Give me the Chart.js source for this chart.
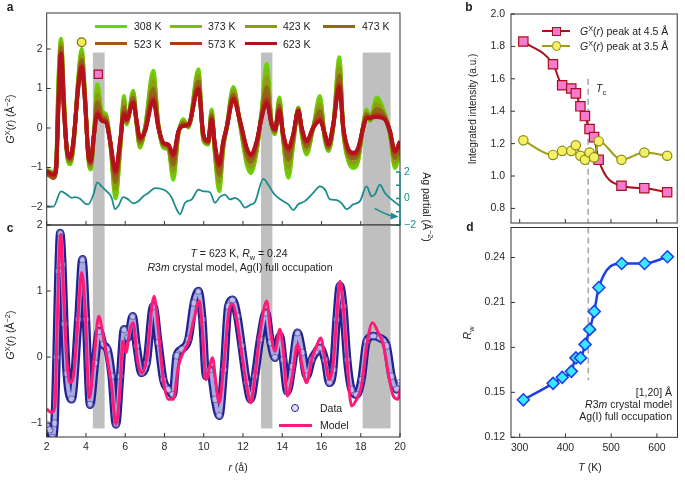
<!DOCTYPE html>
<html><head><meta charset="utf-8">
<script src="https://cdn.jsdelivr.net/npm/chart.js@4.4.1/dist/chart.umd.min.js"></script>
<style>
html,body{margin:0;padding:0;background:#fff;}
#wrap{position:relative;width:685px;height:480px;overflow:hidden;font-family:"Liberation Sans",Arial,Helvetica,sans-serif;color:#222;}
canvas{position:absolute;}
.t{position:absolute;font-size:10.5px;line-height:12px;white-space:nowrap;}
.cc{transform:translate(-50%,-50%);}
.ru{transform:translate(-50%,-50%) rotate(-90deg);}
.rd{transform:translate(-50%,-50%) rotate(90deg);}
.lm{transform:translateY(-50%);}
.rm{transform:translate(-100%,-50%);text-align:right;}
.pl{position:absolute;font-weight:bold;font-size:12px;line-height:12px;transform:translate(-50%,-50%);}
sup,sub{font-size:70%;line-height:0;}
.sw{position:absolute;box-sizing:border-box;}
</style></head>
<body><div id="wrap">
<canvas id="ca" width="440" height="240" style="left:0;top:0"></canvas>
<canvas id="cc" width="440" height="260" style="left:0;top:220px"></canvas>
<canvas id="cb" width="245" height="240" style="left:440px;top:0"></canvas>
<canvas id="cd" width="245" height="260" style="left:440px;top:220px"></canvas>

<div class="pl" style="left:10px;top:7px">a</div>
<div class="pl" style="left:469px;top:7px">b</div>
<div class="pl" style="left:10px;top:228px">c</div>
<div class="pl" style="left:470px;top:227px">d</div>

<div class="t ru" style="left:10px;top:119px"><i>G</i><sup>X</sup>(<i>r</i>) (Å<sup>−2</sup>)</div>
<div class="t ru" style="left:10px;top:335px"><i>G</i><sup>X</sup>(<i>r</i>) (Å<sup>−2</sup>)</div>
<div class="t rd" style="left:427px;top:207px">Ag partial (Å<sup>−2</sup>)</div>
<div class="t cc" style="left:238px;top:467px"><i>r</i> (å)</div>
<div class="t ru" style="left:473px;top:109px;font-size:10px">Integrated intensity (a.u.)</div>
<div class="t ru" style="left:467px;top:333px"><i>R</i><sub>w</sub></div>
<div class="t cc" style="left:590px;top:467px"><i>T</i> (K)</div>
<div class="t lm" style="left:596px;top:88px"><i>T</i><sub>c</sub></div>
<div class="t cc" style="left:239px;top:253px"><i>T</i> = 623 K, <i>R</i><sub>w</sub> = 0.24</div>
<div class="t cc" style="left:240px;top:267px"><i>R</i>3<i>m</i> crystal model, Ag(I) full occupation</div>
<div class="t rm" style="left:672px;top:392px">[1,20] Å</div>
<div class="t rm" style="left:672px;top:404px"><i>R</i>3<i>m</i> crystal model</div>
<div class="t rm" style="left:672px;top:416px">Ag(I) full occupation</div>

<!-- panel c legend -->
<div class="sw" style="left:291px;top:404px;width:8px;height:8px;border:1px solid #1f1f8f;border-radius:50%;background:rgba(215,215,245,0.7)"></div>
<div class="t lm" style="left:320px;top:408px">Data</div>
<div class="sw" style="left:279px;top:423.5px;width:33px;height:3px;background:#ff1a78"></div>
<div class="t lm" style="left:320px;top:425px">Model</div>

<!-- panel b legend -->
<div class="sw" style="left:542px;top:30px;width:28px;height:2px;background:#a8101c"></div>
<div class="sw" style="left:551.5px;top:26.5px;width:9px;height:9px;border:1px solid #a8101c;background:#f57ad0"></div>
<div class="t lm" style="left:580px;top:31px"><i>G</i><sup>X</sup>(<i>r</i>) peak at 4.5 Å</div>
<div class="sw" style="left:542px;top:44.7px;width:28px;height:2px;background:#a0a018"></div>
<div class="sw" style="left:551.5px;top:41.2px;width:9.5px;height:9.5px;border:1px solid #8d8d12;border-radius:50%;background:#f5f065"></div>
<div class="t lm" style="left:580px;top:45.7px"><i>G</i><sup>X</sup>(<i>r</i>) peak at 3.5 Å</div>
</div>

<script>
// ---------------- data ----------------
const temps = ['308 K','373 K','423 K','473 K','523 K','573 K','623 K'];
const tempColors = ['#66d800','#7cbd0e','#8e9c10','#8c6c12','#9c581e','#b0361a','#b3121b'];

const rA = [2.00,2.17,2.34,2.48,2.59,2.73,2.88,3.02,3.19,3.36,3.61,3.78,3.95,4.12,4.24,4.41,4.58,4.80,5.02,5.23,5.51,5.74,5.94,6.07,6.41,6.58,6.75,7.01,7.43,7.69,7.94,8.20,8.45,8.71,8.96,9.22,9.73,9.98,10.23,10.40,10.57,10.79,11.00,11.17,11.51,11.85,12.19,12.39,12.70,12.95,13.21,13.46,13.63,13.85,14.05,14.31,14.56,14.82,14.99,15.24,15.58,15.92,16.18,16.35,16.60,16.91,17.11,17.37,17.62,17.87,18.13,18.30,18.47,18.81,19.23,19.49,19.74,20.00];

const G308 = [-1.05,-1.09,-1.12,-0.95,1.11, 2.26,0.77,-0.59,-0.92,-0.50, 1.28,2.00,0.86,-0.75,-1.05, -0.16,1.11,0.43,0.35,-0.33, -1.78,-0.59,0.81,0.09,0.94, 0.09,-0.50,0.01,1.45,0.09, -0.50,-0.54,-1.31,-0.16,0.22, 0.01,1.49,-0.33,-0.42,0.47, -0.67,-1.60,-0.50,0.01,1.04, 0.09,-0.92,-1.14,-0.59,0.43, 1.62,0.09,-0.16,0.77,-0.33, -1.26,-0.42,0.52,-0.16,-0.67, 0.01,0.81,-0.33,-0.59,0.01, 1.79,-0.08,-0.84,-1.01,-0.84, 0.09,0.47,0.18,0.77,0.35, -0.16,-1.01,-0.59];
const G373 = [-1.07,-1.11,-1.15,-0.97,1.01, 2.20,0.72,-0.58,-0.89,-0.47, 1.24,1.93,0.83,-0.74,-1.02, -0.16,1.00,0.39,0.32,-0.33, -1.68,-0.55,0.74,0.11,0.90, 0.10,-0.46,0.00,1.34,0.08, -0.48,-0.52,-1.21,-0.15,0.19, 0.02,1.41,-0.30,-0.41,0.43, -0.63,-1.50,-0.47,0.01,1.00, 0.10,-0.86,-1.07,-0.55,0.40, 1.47,0.09,-0.14,0.72,-0.30, -1.15,-0.38,0.51,-0.13,-0.62, 0.01,0.72,-0.30,-0.56,0.02, 1.68,-0.07,-0.80,-0.95,-0.79, 0.08,0.44,0.19,0.70,0.33, -0.15,-0.95,-0.55];
const G423 = [-1.10,-1.15,-1.20,-1.00,0.87, 2.12,0.65,-0.56,-0.86,-0.44, 1.19,1.84,0.80,-0.72,-0.98, -0.16,0.84,0.34,0.28,-0.33, -1.54,-0.50,0.65,0.14,0.84, 0.12,-0.41,-0.02,1.18,0.06, -0.45,-0.50,-1.09,-0.13,0.16, 0.04,1.31,-0.27,-0.39,0.38, -0.58,-1.36,-0.44,0.01,0.93, 0.12,-0.77,-0.98,-0.50,0.37, 1.28,0.09,-0.11,0.65,-0.27, -0.99,-0.33,0.49,-0.10,-0.55, 0.01,0.59,-0.27,-0.53,0.04, 1.52,-0.05,-0.74,-0.88,-0.72, 0.06,0.39,0.21,0.60,0.30, -0.13,-0.86,-0.50];
const G473 = [-1.14,-1.19,-1.24,-1.05,0.70, 2.03,0.57,-0.54,-0.82,-0.40, 1.13,1.72,0.76,-0.70,-0.92, -0.16,0.65,0.28,0.22,-0.33, -1.37,-0.43,0.53,0.17,0.76, 0.14,-0.35,-0.04,0.99,0.04, -0.42,-0.47,-0.93,-0.11,0.12, 0.06,1.18,-0.23,-0.37,0.32, -0.52,-1.19,-0.40,0.01,0.85, 0.14,-0.67,-0.86,-0.43,0.33, 1.03,0.09,-0.08,0.57,-0.23, -0.80,-0.26,0.47,-0.06,-0.47, 0.01,0.43,-0.23,-0.49,0.06, 1.33,-0.03,-0.66,-0.78,-0.64, 0.04,0.34,0.23,0.48,0.27, -0.11,-0.76,-0.43];
const G523 = [-1.16,-1.22,-1.27,-1.08,0.57, 1.95,0.50,-0.52,-0.78,-0.36, 1.08,1.63,0.72,-0.69,-0.88, -0.16,0.50,0.23,0.18,-0.33, -1.23,-0.38,0.44,0.19,0.70, 0.16,-0.30,-0.06,0.84,0.03, -0.40,-0.44,-0.80,-0.10,0.08, 0.07,1.08,-0.19,-0.35,0.27, -0.47,-1.06,-0.36,0.01,0.79, 0.16,-0.58,-0.76,-0.38,0.29, 0.84,0.09,-0.06,0.50,-0.19, -0.65,-0.21,0.45,-0.02,-0.40, 0.01,0.31,-0.19,-0.45,0.07, 1.18,-0.01,-0.60,-0.71,-0.57, 0.03,0.29,0.24,0.38,0.25, -0.10,-0.67,-0.38];
const G573 = [-1.12,-1.17,-1.22,-1.03,0.48, 1.90,0.46,-0.51,-0.76,-0.34, 1.05,1.58,0.70,-0.68,-0.86, -0.16,0.41,0.20,0.16,-0.33, -1.15,-0.35,0.39,0.21,0.66, 0.17,-0.27,-0.07,0.75,0.02, -0.38,-0.43,-0.72,-0.09,0.06, 0.08,1.02,-0.17,-0.34,0.24, -0.44,-0.97,-0.34,0.01,0.75, 0.17,-0.53,-0.71,-0.35,0.27, 0.72,0.09,-0.04,0.46,-0.17, -0.56,-0.18,0.44,0.00,-0.36, 0.01,0.23,-0.17,-0.43,0.08, 1.09,0.00,-0.56,-0.66,-0.53, 0.02,0.27,0.25,0.32,0.23, -0.09,-0.62,-0.35];
const G623 = [-1.09,-1.14,-1.18,-1.01,0.43, 1.87,0.43,-0.50,-0.75,-0.33, 1.03,1.54,0.69,-0.67,-0.84, -0.16,0.35,0.18,0.14,-0.33, -1.09,-0.33,0.35,0.22,0.64, 0.18,-0.25,-0.08,0.69,0.01, -0.37,-0.42,-0.67,-0.08,0.05, 0.09,0.98,-0.16,-0.33,0.22, -0.42,-0.92,-0.33,0.01,0.73, 0.18,-0.50,-0.67,-0.33,0.26, 0.64,0.09,-0.03,0.43,-0.16, -0.50,-0.16,0.43,0.01,-0.33, 0.01,0.18,-0.16,-0.42,0.09, 1.03,0.01,-0.54,-0.63,-0.50, 0.01,0.25,0.26,0.28,0.22, -0.08,-0.59,-0.33];
const Gseries = [G308,G373,G423,G473,G523,G573,G623];

const rAg = [2.00,2.34,2.73,3.02,3.27,3.44,3.70,3.95,4.12,4.38,4.58,4.80,5.06,5.31,5.48,5.65,5.90,6.16,6.41,6.67,6.92,7.18,7.52,8.11,8.37,8.62,8.79,9.05,9.39,9.73,9.98,10.32,10.57,10.83,11.08,11.34,11.59,11.85,12.10,12.36,12.61,13.04,13.29,13.55,13.80,14.05,14.31,14.56,14.82,15.16,15.58,15.92,16.18,16.43,16.77,17.03,17.28,17.62,17.96,18.30,18.55,18.72,18.97,19.23,19.57,20.00];
const gAg = [-0.57,-0.62,0.54,0.30,0.05,0.10,-0.02,-0.37,-0.44,0.30,1.21,0.91,0.54,0.05,-0.81,-0.57,0.10,-0.07,-0.37,-0.20,0.17,0.42,0.79,0.54,0.05,-0.81,-1.19,-0.32,-0.07,0.67,0.54,0.47,-0.32,0.12,0.30,-0.07,0.05,-0.20,-0.69,-0.49,-0.27,1.48,1.04,0.42,0.05,-0.20,-0.44,-0.86,-0.44,-0.20,0.42,0.91,0.67,-0.07,-0.12,-0.37,-0.81,-0.44,-0.20,0.91,0.17,0.30,1.04,0.42,-0.07,-0.57];

const markerCircleA = [{x:3.78, y:2.17}];
const markerSquareA = [{x:4.63, y:1.36}];

const bandFrom = [4.35, 12.92, 18.10];
const bandTo   = [4.95, 13.50, 19.52];

const rData = [2.00,2.15,2.29,2.40,2.50,2.60,2.69,2.80,2.90,3.02,3.27,3.61,3.82,4.00,4.21,4.46,4.67,4.89,5.09,5.31,5.53,5.74,5.94,6.13,6.38,6.58,6.84,7.09,7.43,7.69,7.94,8.20,8.42,8.62,8.88,9.22,9.50,9.73,9.93,10.12,10.32,10.57,10.79,11.03,11.25,11.47,11.71,11.93,12.19,12.39,12.61,12.87,13.17,13.41,13.63,13.88,14.05,14.26,14.51,14.78,15.02,15.24,15.50,15.75,15.92,16.18,16.40,16.60,16.77,16.94,17.11,17.31,17.53,17.79,18.04,18.30,18.64,18.98,19.32,19.57,19.83,20.00];
const gData = [-1.02,-1.10,-1.22,-1.00,0.00,1.30,1.88,1.40,0.50,-0.25,-0.64,0.57,1.48,0.57,-0.72,-0.09,0.39,0.19,0.12,-0.29,-1.02,-0.29,0.42,0.29,0.62,0.17,-0.24,-0.09,0.77,0.22,-0.34,-0.49,-0.57,0.02,0.12,0.27,0.82,1.00,0.57,-0.29,-0.19,-0.64,-0.89,-0.19,0.77,0.87,0.62,0.17,-0.39,-0.64,-0.29,0.27,0.67,0.22,-0.01,0.32,-0.04,-0.52,-0.14,0.37,0.07,-0.29,-0.04,0.09,0.14,-0.04,-0.39,-0.19,0.57,1.08,0.77,-0.04,-0.49,-0.57,-0.34,0.24,0.32,0.29,0.17,-0.29,-0.49,-0.39];
const rModel = [2.00,2.25,2.42,2.54,2.71,2.88,3.02,3.19,3.36,3.56,3.78,3.95,4.17,4.41,4.65,4.85,5.09,5.31,5.53,5.74,5.87,6.04,6.24,6.41,6.62,6.84,7.09,7.47,7.69,7.94,8.20,8.45,8.71,8.96,9.22,9.50,9.78,9.93,10.12,10.45,10.62,10.79,11.03,11.30,11.47,11.71,11.93,12.19,12.39,12.61,12.87,13.21,13.41,13.63,13.88,14.05,14.26,14.51,14.78,15.02,15.24,15.50,15.75,15.96,16.18,16.40,16.60,16.77,16.94,17.11,17.31,17.53,17.79,18.04,18.30,18.60,18.89,19.15,19.40,19.66,19.91,20.00];
const gModel = [-0.79,-0.84,-0.74,0.57,1.86,0.82,-0.04,-0.39,-0.29,0.42,1.28,0.77,-0.62,-0.04,0.62,0.37,-0.04,-0.44,-1.02,-0.44,0.24,0.07,0.42,0.52,-0.04,-0.24,-0.04,0.92,0.42,-0.34,-0.64,-0.64,-0.14,0.07,0.22,0.57,0.85,0.42,-0.34,-0.01,-0.39,-0.69,-0.09,0.72,0.80,0.52,0.07,-0.44,-0.69,-0.29,0.37,0.85,0.37,0.09,0.42,0.12,-0.59,-0.29,0.19,-0.14,-0.39,-0.04,0.17,0.29,-0.04,-0.34,-0.09,0.57,1.15,0.77,-0.09,-0.74,-0.64,-0.44,0.17,0.52,0.37,0.19,-0.24,-0.59,-0.64,-0.49];

const tempsK = [308,373,393,413,423,433,443,453,463,473,523,573,623];
const peak45 = [1.83,1.69,1.56,1.54,1.51,1.43,1.37,1.29,1.24,1.10,0.94,0.925,0.90];
const peak35 = [1.22,1.13,1.155,1.155,1.19,1.125,1.10,1.145,1.115,1.215,1.10,1.145,1.125];
const Rw = [0.145,0.156,0.160,0.164,0.173,0.173,0.182,0.192,0.204,0.220,0.236,0.236,0.2405];
const Tc = 450;

const xTicksR = [2,4,6,8,10,12,14,16,18,20];
const yTicksA = [-2,-1,0,1,2];
const yTicksAg = [-2,-1,0,1,2];
const yTicksC = [-1,0,1,2];
const xTicksT = [300,400,500,600];
const yTicksB = [0.8,1.0,1.2,1.4,1.6,1.8,2.0];
const yTicksD = [0.12,0.15,0.18,0.21,0.24];

// ---------------- helpers ----------------
Chart.defaults.font.family = '"Liberation Sans", Arial, Helvetica, sans-serif';
Chart.defaults.font.size = 10.5;
Chart.defaults.color = '#2a2a2a';

const minus = v => (v < 0 ? '\u2212' + Math.abs(v) : String(v));
const xy = (xs, ys) => xs.map((x, i) => ({x, y: ys[i]}));

function scale(min, max, tickVals, extra) {
  extra = extra || {};
  const t = Object.assign({padding: 4, color: '#2a2a2a', autoSkip: false, maxRotation: 0, minRotation: 0}, extra.ticks || {});
  const o = {type: 'linear', min, max, position: extra.position || 'left',
    grid: {display: false, drawTicks: false}, border: {display: false}, ticks: t};
  o.afterBuildTicks = sc => { sc.ticks = tickVals.map(v => ({value: v})); };
  o.afterFit = sc => {
    if (extra.w != null) sc.width = extra.w;
    if (extra.h != null) sc.height = extra.h;
    sc.paddingTop = 0; sc.paddingBottom = 0; sc.paddingLeft = 0; sc.paddingRight = 0;
  };
  return o;
}

// draws a wider dark stroke under a line dataset (for the "open circle" data band)
const underlay = {
  id: 'underlay',
  beforeDatasetDraw(chart, args) {
    const ds = chart.data.datasets[args.index];
    if (!ds.underColor) return;
    const el = args.meta.dataset;
    const o = el.options;
    const bw = o.borderWidth, bc = o.borderColor;
    const ctx = chart.ctx, ca = chart.chartArea;
    ctx.save();
    ctx.beginPath(); ctx.rect(ca.left, ca.top, ca.right - ca.left, ca.bottom - ca.top); ctx.clip();
    try {
      o.borderWidth = ds.underWidth; o.borderColor = ds.underColor;
      el.draw(ctx, ca);
    } catch (e) {}
    try { o.borderWidth = bw; o.borderColor = bc; } catch (e) {}
    ctx.restore();
  }
};

function makeDeco(cfg) {
  return {
    id: 'deco',
    beforeDatasetsDraw(chart) {
      const {ctx, chartArea: ca, scales: s} = chart;
      ctx.save();
      if (cfg.bands) {
        ctx.fillStyle = '#bfbfbf';
        for (let i = 0; i < cfg.bands.from.length; i++) {
          const x0 = s.x.getPixelForValue(cfg.bands.from[i]);
          const x1 = s.x.getPixelForValue(cfg.bands.to[i]);
          const y0 = cfg.bands.top == null ? ca.top : s.y.getPixelForValue(cfg.bands.top);
          const y1 = cfg.bands.bottom == null ? ca.bottom : s.y.getPixelForValue(cfg.bands.bottom);
          ctx.fillRect(x0, y0, x1 - x0, y1 - y0);
        }
      }
      if (cfg.vline) {
        const x = s.x.getPixelForValue(cfg.vline.x);
        const y0 = cfg.vline.top == null ? ca.top : s.y.getPixelForValue(cfg.vline.top);
        const y1 = cfg.vline.bottom == null ? ca.bottom : s.y.getPixelForValue(cfg.vline.bottom);
        ctx.strokeStyle = '#a9a9a9'; ctx.lineWidth = 1.6; ctx.setLineDash([6, 4]);
        ctx.beginPath(); ctx.moveTo(x, y0); ctx.lineTo(x, y1); ctx.stroke();
      }
      ctx.restore();
    },
    afterDatasetsDraw(chart) {
      const {ctx, chartArea: ca, scales: s} = chart;
      ctx.save();
      ctx.lineWidth = 1;
      ctx.strokeStyle = '#333';
      ctx.strokeRect(ca.left, ca.top, ca.right - ca.left, ca.bottom - ca.top);
      for (const t of cfg.ticks) {
        const sc = s[t.id];
        const len = t.len || 4;
        ctx.strokeStyle = t.color || '#333';
        ctx.lineWidth = t.lw || 1;
        ctx.beginPath();
        if (t.axisFrom != null) {
          ctx.moveTo(ca.right, sc.getPixelForValue(t.axisFrom));
          ctx.lineTo(ca.right, sc.getPixelForValue(t.axisTo));
        }
        for (const tk of sc.ticks) {
          const p = sc.getPixelForValue(tk.value);
          if (sc.position === 'left') { ctx.moveTo(ca.left, p); ctx.lineTo(ca.left + len, p); }
          else if (sc.position === 'right') { ctx.moveTo(ca.right, p); ctx.lineTo(ca.right - len, p); }
          else if (sc.position === 'bottom') { ctx.moveTo(p, ca.bottom); ctx.lineTo(p, ca.bottom - len); }
        }
        ctx.stroke();
      }
      if (cfg.arrow) {
        const a = cfg.arrow, sy = s[a.axis];
        const x0 = s.x.getPixelForValue(a.from[0]), y0 = sy.getPixelForValue(a.from[1]);
        const x1 = s.x.getPixelForValue(a.to[0]), y1 = sy.getPixelForValue(a.to[1]);
        const cx = x0 + (x1 - x0) * 0.55, cy = y1 - 1;
        ctx.strokeStyle = a.color; ctx.fillStyle = a.color; ctx.lineWidth = 1.5;
        ctx.beginPath(); ctx.moveTo(x0, y0); ctx.quadraticCurveTo(cx, cy, x1 - 5, y1 - 0.5); ctx.stroke();
        const ang = Math.atan2(y1 - cy, x1 - cx);
        ctx.beginPath();
        ctx.moveTo(x1, y1);
        ctx.lineTo(x1 - 8 * Math.cos(ang) + 3.5 * Math.sin(ang), y1 - 8 * Math.sin(ang) - 3.5 * Math.cos(ang));
        ctx.lineTo(x1 - 8 * Math.cos(ang) - 3.5 * Math.sin(ang), y1 - 8 * Math.sin(ang) + 3.5 * Math.cos(ang));
        ctx.closePath(); ctx.fill();
      }
      ctx.restore();
    }
  };
}

const baseOpts = (padding, scales) => ({
  responsive: false, animation: false, events: [],
  layout: {padding},
  plugins: {legend: {display: false}, tooltip: {enabled: false}},
  scales
});

// ---------------- panel a ----------------
const teal = '#1b8c8c';
const dsA = temps.map((lab, i) => ({
  label: lab, data: xy(rA, Gseries[i]), yAxisID: 'y',
  borderColor: tempColors[i], borderWidth: 4, pointRadius: 0,
  cubicInterpolationMode: 'monotone', order: 7 - i + 1
}));
dsA.push({label: 'Ag partial', data: xy(rAg, gAg), yAxisID: 'y2', borderColor: teal, borderWidth: 1.8,
  pointRadius: 0, cubicInterpolationMode: 'monotone', order: 0});
dsA.push({label: 'peak 3.5', data: markerCircleA, yAxisID: 'y', showLine: false, pointStyle: 'circle',
  pointRadius: 4.3, pointBackgroundColor: '#f3ec5a', pointBorderColor: '#7d6d10', pointBorderWidth: 1.2, order: -1});
dsA.push({label: 'peak 4.5', data: markerSquareA, yAxisID: 'y', showLine: false, pointStyle: 'rect',
  pointRadius: 5.8, pointBackgroundColor: '#f47ccc', pointBorderColor: '#a01030', pointBorderWidth: 1.2, order: -1});

new Chart(document.getElementById('ca'), {
  type: 'line',
  data: {datasets: dsA},
  options: baseOpts({top: 13, left: 0, right: 0, bottom: 0}, {
    x: scale(2, 20, xTicksR, {position: 'bottom', h: 15, ticks: {display: false}}),
    y: scale(-2.456, 2.911, yTicksA, {position: 'left', w: 46.7, ticks: {callback: minus, padding: 4}}),
    y2: scale(-2, 14, yTicksAg, {position: 'right', w: 40, ticks: {color: teal, padding: 4,
      callback: v => (Math.abs(v) % 2 === 0 ? minus(v) : '')}})
  }),
  plugins: [makeDeco({
    bands: {from: bandFrom, to: bandTo, top: 1.91},
    ticks: [{id: 'x'}, {id: 'y'}, {id: 'y2', color: teal, lw: 1.3, axisFrom: -2, axisTo: 2}],
    arrow: {axis: 'y2', from: [18.71, -0.74], to: [19.93, -1.37], color: teal}
  })]
});

// ---------------- panel c ----------------
new Chart(document.getElementById('cc'), {
  type: 'line',
  data: {datasets: [
    {label: 'Model', data: xy(rModel, gModel), borderColor: '#ff1a78', borderWidth: 3, pointRadius: 0,
      cubicInterpolationMode: 'monotone', order: 1},
    {label: 'Data', data: xy(rData, gData), borderColor: '#a9a9de', borderWidth: 4,
      underColor: '#23238f', underWidth: 8.5,
      pointStyle: 'circle', pointRadius: 3.4, pointBorderWidth: 0.9, pointBorderColor: 'rgba(40,40,150,0.6)',
      pointBackgroundColor: 'rgba(225,225,250,0.35)', cubicInterpolationMode: 'monotone', order: 2}
  ]},
  options: baseOpts({top: 5, left: 0, right: 40, bottom: 0}, {
    x: scale(2, 20, xTicksR, {position: 'bottom', h: 43, ticks: {padding: 4}}),
    y: scale(-1.21, 2, yTicksC, {position: 'left', w: 46.7, ticks: {callback: minus, padding: 4}})
  }),
  plugins: [underlay, makeDeco({
    bands: {from: bandFrom, to: bandTo, bottom: -1.08},
    ticks: [{id: 'x'}, {id: 'y'}]
  })]
});

// ---------------- panel b ----------------
new Chart(document.getElementById('cb'), {
  type: 'line',
  data: {datasets: [
    {label: 'peak 3.5', data: xy(tempsK, peak35), borderColor: '#a0a018', borderWidth: 2,
      pointStyle: 'circle', pointRadius: 4.7, pointBackgroundColor: '#f5f065', pointBorderColor: '#8d8d12',
      pointBorderWidth: 1.2, cubicInterpolationMode: 'monotone', order: 1},
    {label: 'peak 4.5', data: xy(tempsK, peak45), borderColor: '#a8101c', borderWidth: 2,
      pointStyle: 'rect', pointRadius: 6.6, pointBackgroundColor: '#f57ad0', pointBorderColor: '#a8101c',
      pointBorderWidth: 1.2, cubicInterpolationMode: 'monotone', order: 2}
  ]},
  options: baseOpts({top: 14, left: 0, right: 2.3, bottom: 0}, {
    x: scale(281, 645, xTicksT, {position: 'bottom', h: 17, ticks: {display: false}}),
    y: scale(0.71, 2.0, yTicksB, {position: 'left', w: 71, ticks: {callback: v => v.toFixed(1), padding: 6}})
  }),
  plugins: [makeDeco({vline: {x: Tc, top: 1.6}, ticks: [{id: 'x'}, {id: 'y'}]})]
});

// ---------------- panel d ----------------
new Chart(document.getElementById('cd'), {
  type: 'line',
  data: {datasets: [
    {label: 'Rw', data: xy(tempsK, Rw), borderColor: '#1e3ee6', borderWidth: 2.5,
      pointStyle: 'rectRot', pointRadius: 6, pointBackgroundColor: '#38e8ff', pointBorderColor: '#1e3ee6',
      pointBorderWidth: 1.5, cubicInterpolationMode: 'monotone'}
  ]},
  options: baseOpts({top: 5, left: 0, right: 2.3, bottom: 0}, {
    x: scale(281, 645, xTicksT, {position: 'bottom', h: 42.7, ticks: {padding: 5}}),
    y: scale(0.12, 0.26, yTicksD, {position: 'left', w: 71, ticks: {callback: v => v.toFixed(2), padding: 6}})
  }),
  plugins: [makeDeco({vline: {x: Tc, bottom: 0.158}, ticks: [{id: 'x'}, {id: 'y'}]})]
});

// ---------------- panel a legend ----------------
const wrap = document.getElementById('wrap');
const legLineX = [95, 170, 245, 323], legTextX = [134, 208, 283, 362], legRowY = [26, 43.7];
temps.forEach((lab, i) => {
  const row = i < 4 ? 0 : 1, col = i < 4 ? i : i - 4;
  const sw = document.createElement('div');
  sw.className = 'sw';
  sw.style.cssText = `left:${legLineX[col]}px;top:${legRowY[row] - 1.5}px;width:32px;height:3px;background:${tempColors[i]}`;
  wrap.appendChild(sw);
  const tx = document.createElement('div');
  tx.className = 't lm';
  tx.style.cssText = `left:${legTextX[col]}px;top:${legRowY[row]}px`;
  tx.textContent = lab;
  wrap.appendChild(tx);
});
</script>
</body></html>
